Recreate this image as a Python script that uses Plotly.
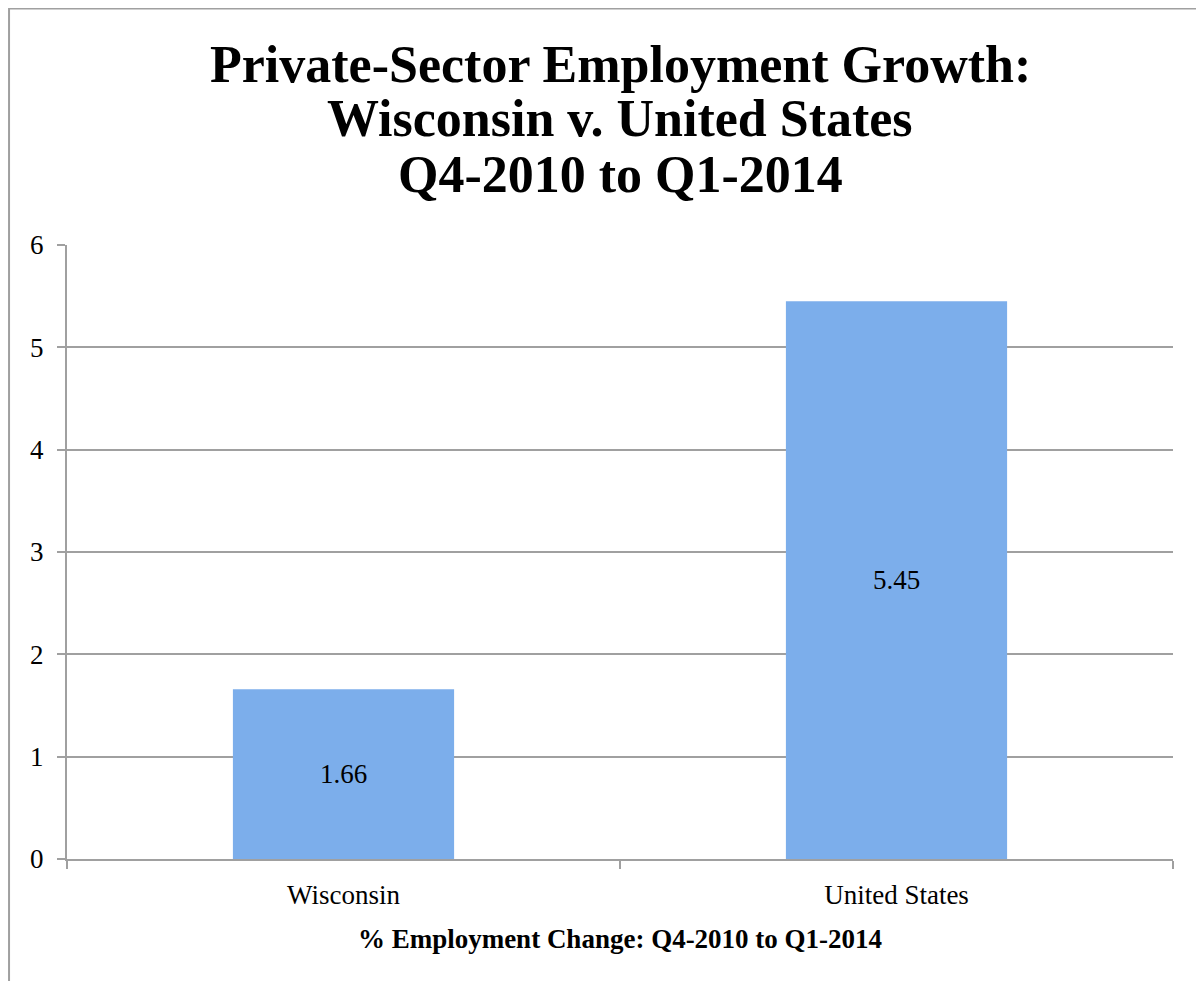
import plotly.graph_objects as go

regions = ["Wisconsin", "United States"]
growth = [1.66, 5.45]
y_ticks = [0, 1, 2, 3, 4, 5, 6]
title_lines = [
    "Private-Sector Employment Growth:",
    "Wisconsin v. United States",
    "Q4-2010 to Q1-2014",
]
x_title = "% Employment Change: Q4-2010 to Q1-2014"

serif = "Liberation Serif"
grey = "#a0a0a0"

fig = go.Figure()
fig.add_trace(
    go.Bar(
        x=regions,
        y=growth,
        text=[f"{v:.2f}" for v in growth],
        textposition="inside",
        insidetextanchor="middle",
        textfont=dict(family=serif, size=27, color="black"),
        marker=dict(color="#7caeeb", line=dict(width=0)),
        showlegend=False,
    )
)

# title as three lines, tighter spacing than plotly's default line height
title_y = [1.2934, 1.2054, 1.1142]
for line, yy in zip(title_lines, title_y):
    fig.add_annotation(
        text=line,
        xref="paper",
        yref="paper",
        x=0.5,
        y=yy,
        xanchor="center",
        yanchor="middle",
        showarrow=False,
        font=dict(family=serif, size=52, color="black", weight="bold"),
    )

fig.update_layout(
    width=1196,
    height=973,
    paper_bgcolor="white",
    plot_bgcolor="white",
    margin=dict(l=59, r=31, t=237, b=122),
    bargap=0.6,
    font=dict(family=serif, size=27, color="black"),
    xaxis=dict(
        showline=True,
        linecolor=grey,
        linewidth=2,
        ticks="outside",
        tickson="boundaries",
        ticklen=8,
        tickcolor=grey,
        tickwidth=2,
        ticklabelstandoff=11,
        title=dict(
            text=x_title,
            font=dict(family=serif, size=27, color="black", weight="bold"),
            standoff=20,
        ),
        tickfont=dict(family=serif, size=27),
    ),
    yaxis=dict(
        range=[0, 6],
        tickvals=y_ticks,
        showgrid=True,
        gridcolor=grey,
        gridwidth=2,
        showline=True,
        linecolor=grey,
        linewidth=2,
        ticks="outside",
        ticklen=8,
        tickcolor=grey,
        tickwidth=2,
        ticklabelstandoff=8,
        zeroline=False,
        tickfont=dict(family=serif, size=27),
    ),
    shapes=[
        dict(
            type="rect",
            xref="paper",
            yref="paper",
            x0=-0.0524,
            x1=1.2,
            y0=-0.4,
            y1=1.3852,
            line=dict(color=grey, width=2),
            fillcolor="rgba(0,0,0,0)",
            layer="below",
        )
    ],
)

fig.write_html("out.html")
